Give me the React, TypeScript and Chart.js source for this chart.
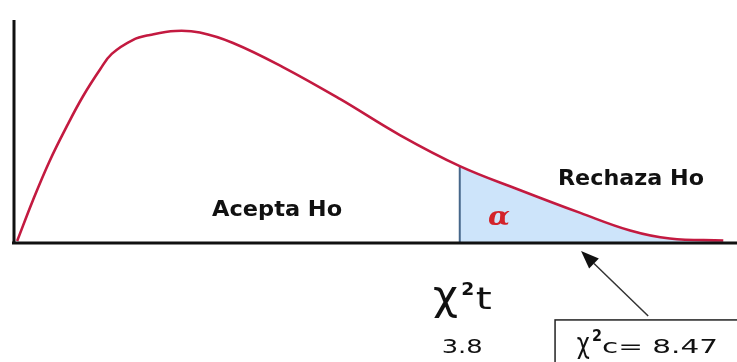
import React, { useEffect, useRef } from "react";
import { Chart, registerables } from "chart.js";

Chart.register(...registerables);

// Density curve (generic units: x 0..100 across the axis, y 0..100 height)
const CURVE_X = [0.3, 2.5, 4.8, 7.2, 9.4, 11.8, 13.4, 16.3, 18.7, 22.2, 25.6, 30.2, 37.1, 45.0, 53.3, 61.6, 69.9, 78.3, 85.2, 90.7, 98.1];
const CURVE_Y = [0.9, 19.3, 36.8, 52.5, 65.7, 77.9, 84.8, 91.0, 93.3, 95.1, 94.4, 89.7, 78.9, 64.6, 48.4, 34.5, 23.8, 13.5, 5.6, 2.0, 1.1];
const CRITICAL_X = 61.6;

// Texts
const ACCEPT_LABEL = "Acepta Ho";
const REJECT_LABEL = "Rechaza Ho";
const ALPHA_LABEL = "α";
const CHI = "χ";
const CRIT_NAME = "t";
const CALC_NAME = "c= ";
const CRITICAL_LABEL = "3.8";
const CALC_LABEL = "8.47";

// Colors / styles
const RED = "#c31a40";
const FILL = "#cde4fa";
const CRIT_LINE = "#46678a";
const AXIS = "#111111";
const TEXT = "#111111";

type Pt = { x: number; y: number };
const curve: Pt[] = CURVE_X.map((x, i) => ({ x, y: CURVE_Y[i] }));
const critIdx = CURVE_X.indexOf(CRITICAL_X);
const critY = CURVE_Y[critIdx];

function fitText(ctx: CanvasRenderingContext2D, text: string, x: number, y: number, font: string, color: string, width: number) {
  ctx.save();
  ctx.font = font;
  ctx.fillStyle = color;
  ctx.textAlign = "left";
  ctx.textBaseline = "alphabetic";
  const w = ctx.measureText(text).width || 1;
  ctx.translate(x, y);
  ctx.scale(width / w, 1);
  ctx.fillText(text, 0, 0);
  ctx.restore();
}

const annotate = {
  id: "annotate",
  afterDatasetsDraw(chart: any) {
    const ctx: CanvasRenderingContext2D = chart.ctx;
    const { left, right, top, bottom } = chart.chartArea;
    const xs = chart.scales.x;
    const ys = chart.scales.y;
    const X = (v: number) => xs.getPixelForValue(v);
    const Y = (v: number) => ys.getPixelForValue(v);

    // axes
    ctx.save();
    ctx.strokeStyle = AXIS;
    ctx.lineWidth = 3;
    ctx.beginPath();
    ctx.moveTo(left - 1, top);
    ctx.lineTo(left - 1, bottom + 1.5);
    ctx.moveTo(left - 3, bottom);
    ctx.lineTo(right, bottom);
    ctx.stroke();
    ctx.restore();

    // region labels
    fitText(ctx, ACCEPT_LABEL, X(27.3), Y(12.1), "bold 22px 'DejaVu Sans'", TEXT, 130);
    fitText(ctx, REJECT_LABEL, X(75.2), Y(26.0), "bold 22px 'DejaVu Sans'", TEXT, 146);
    fitText(ctx, ALPHA_LABEL, X(65.5), Y(8.1), "italic bold 26px 'DejaVu Serif'", "#d3232a", 22);

    // critical value label
    fitText(ctx, CHI, X(57.9), Y(-29.6), "40px 'DejaVu Sans'", TEXT, 25);
    fitText(ctx, "2", X(61.8), Y(-23.3), "bold 18px 'DejaVu Sans'", TEXT, 13);
    fitText(ctx, CRIT_NAME, X(63.8), Y(-29.6), "30px 'DejaVu Sans'", TEXT, 16);
    fitText(ctx, CRITICAL_LABEL, X(59.1), Y(-49.3), "20px 'DejaVu Sans'", TEXT, 41);

    // calculated value box
    const bx = X(74.8);
    const by = Y(-34.5);
    ctx.save();
    ctx.strokeStyle = "#222";
    ctx.lineWidth = 1.5;
    ctx.strokeRect(bx, by, 200, 60);
    ctx.restore();
    fitText(ctx, CHI, X(77.8), Y(-49.3), "28px 'DejaVu Sans'", TEXT, 13);
    fitText(ctx, "2", X(79.9), Y(-43.9), "bold 15px 'DejaVu Sans'", TEXT, 10);
    fitText(ctx, CALC_NAME + CALC_LABEL, X(81.3), Y(-49.3), "20px 'DejaVu Sans'", TEXT, 116);

    // arrow
    const tx = X(87.7), ty = Y(-32.7);
    const hx = X(78.4), hy = Y(-3.6);
    const ang = Math.atan2(hy - ty, hx - tx);
    const hl = 18, hw = 7;
    const bxh = hx - hl * Math.cos(ang), byh = hy - hl * Math.sin(ang);
    ctx.save();
    ctx.strokeStyle = "#333";
    ctx.fillStyle = "#111";
    ctx.lineWidth = 1.5;
    ctx.beginPath();
    ctx.moveTo(tx, ty);
    ctx.lineTo(bxh, byh);
    ctx.stroke();
    ctx.beginPath();
    ctx.moveTo(hx, hy);
    ctx.lineTo(bxh + hw * Math.sin(ang), byh - hw * Math.cos(ang));
    ctx.lineTo(bxh - hw * Math.sin(ang), byh + hw * Math.cos(ang));
    ctx.closePath();
    ctx.fill();
    ctx.restore();
  },
};

export default function App() {
  const ref = useRef<HTMLCanvasElement | null>(null);
  useEffect(() => {
    if (!ref.current) return;
    const chart = new Chart(ref.current, {
      type: "line",
      data: {
        datasets: [
          {
            label: "curve",
            data: curve,
            borderColor: RED,
            borderWidth: 2.6,
            pointRadius: 0,
            tension: 0.4,
            fill: false,
            order: 1,
          },
          {
            label: "crit",
            data: [
              { x: CRITICAL_X, y: 0 },
              { x: CRITICAL_X, y: critY },
            ],
            borderColor: CRIT_LINE,
            borderWidth: 2,
            pointRadius: 0,
            fill: false,
            order: 2,
          },
          {
            label: "area",
            data: curve,
            borderWidth: 0,
            borderColor: "rgba(0,0,0,0)",
            backgroundColor: "rgba(0,0,0,0)",
            pointRadius: 0,
            tension: 0.4,
            fill: "origin",
            segment: {
              backgroundColor: (c: any) => (c.p0.parsed.x >= CRITICAL_X ? FILL : "rgba(0,0,0,0)"),
            },
            order: 3,
          },
        ] as any,
      },
      options: {
        animation: false,
        responsive: false,
        events: [],
        layout: { padding: { left: 15, right: 0, top: 20, bottom: 119 } },
        plugins: { legend: { display: false }, tooltip: { enabled: false } },
        scales: {
          x: { type: "linear", min: 0, max: 100, display: false },
          y: { type: "linear", min: 0, max: 100, display: false },
        },
      } as any,
      plugins: [annotate],
    });
    return () => chart.destroy();
  }, []);
  return (
    <div style={{ position: "absolute", left: 0, top: 0, width: 737, height: 362, background: "#fff" }}>
      <canvas ref={ref} width={737} height={362} style={{ display: "block" }} />
    </div>
  );
}
